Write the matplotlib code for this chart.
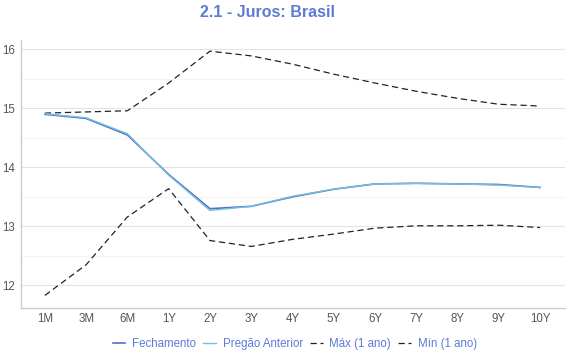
import numpy as np
import matplotlib.pyplot as plt
from matplotlib.ticker import MultipleLocator

plt.rcParams['font.family'] = ['Liberation Sans', 'DejaVu Sans']

Vertices = ['1M', '3M', '6M', '1Y', '2Y', '3Y', '4Y', '5Y', '6Y', '7Y', '8Y', '9Y', '10Y']
Fechamento = [14.90, 14.83, 14.55, 13.88, 13.30, 13.34, 13.50, 13.63, 13.72, 13.73, 13.72, 13.71, 13.66]
PregaoAnterior = [14.91, 14.84, 14.57, 13.87, 13.27, 13.34, 13.51, 13.63, 13.72, 13.73, 13.72, 13.70, 13.66]
Max1Ano = [14.92, 14.94, 14.96, 15.43, 15.97, 15.89, 15.75, 15.58, 15.43, 15.29, 15.17, 15.07, 15.04]
Min1Ano = [11.83, 12.35, 13.16, 13.64, 12.76, 12.66, 12.78, 12.87, 12.97, 13.01, 13.01, 13.02, 12.98]

x = np.arange(len(Vertices))

fig = plt.figure(figsize=(5.7, 3.6), dpi=100)
ax = fig.add_axes([0.036, 0.145, 0.955, 0.744])

ax.plot(x, Fechamento, color='#5470C6', linewidth=1.2, label='Fechamento', zorder=4)
ax.plot(x, PregaoAnterior, color='#73C0DE', linewidth=1.0, label='Pregão Anterior', zorder=5)
ax.plot(x, Max1Ano, color='#222222', linewidth=0.9, dashes=(5, 3), label='Máx (1 ano)', zorder=3)
ax.plot(x, Min1Ano, color='#222222', linewidth=0.9, dashes=(5, 3), label='Mín (1 ano)', zorder=3)

ax.set_xlim(-0.59, 12.6)
ax.set_ylim(11.62, 16.16)
ax.set_xticks(x)
ax.set_xticklabels(Vertices)
ax.yaxis.set_major_locator(MultipleLocator(1))
ax.yaxis.set_minor_locator(MultipleLocator(0.5))
ax.grid(which='major', axis='y', color='#E3E3E3', linewidth=0.8)
ax.grid(which='minor', axis='y', color='#F3F3F3', linewidth=0.8)
ax.set_axisbelow(True)

for s in ['top', 'right']:
    ax.spines[s].set_visible(False)
for s in ['left', 'bottom']:
    ax.spines[s].set_color('#CCCCCC')
    ax.spines[s].set_linewidth(1.0)

ax.tick_params(axis='both', which='both', length=0, labelsize=8.3, colors='#555555')
ax.tick_params(axis='x', pad=4)
ax.tick_params(axis='y', pad=4)

fig.suptitle('2.1 - Juros: Brasil', x=0.47, y=0.985, fontsize=11.5, fontweight='bold', color='#5B7BD5')

leg = fig.legend(loc='center', bbox_to_anchor=(0.517, 0.045), ncol=4, frameon=False,
                 fontsize=8.3, handlelength=1.1, handletextpad=0.6, columnspacing=0.6)
for t in leg.get_texts():
    t.set_color('#5B7BD5')

fig.savefig('out.png', dpi=100)
